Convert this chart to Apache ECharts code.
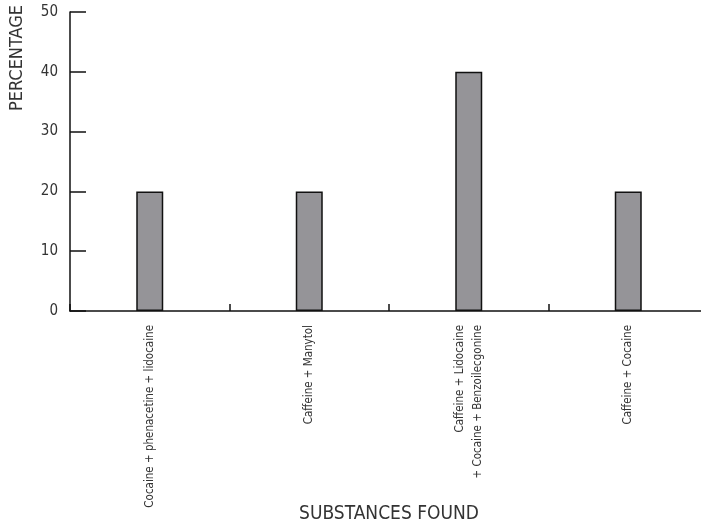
<!DOCTYPE html>
<html>
<head>
<meta charset="utf-8">
<script src="https://cdn.jsdelivr.net/npm/echarts@6/dist/echarts.min.js"></script>
<style>html,body{margin:0;padding:0;background:#fff}#c{width:701px;height:525px}</style>
</head>
<body>
<div id="c"></div>
<script>
const categories = [
  "Cocaine + phenacetine + lidocaine",
  "Caffeine + Manytol",
  "Caffeine + Lidocaine\n+ Cocaine + Benzoilecgonine",
  "Caffeine + Cocaine"
];
const percentages = [20, 20, 40, 20];
const yTicks = [0, 10, 20, 30, 40, 50];
const xAxisTitle = "SUBSTANCES FOUND";
const yAxisTitle = "PERCENTAGE";

const FONT = "'Liberation Sans Narrow', 'DejaVu Sans Condensed', sans-serif";
const chart = echarts.init(document.getElementById('c'));
chart.setOption({
  animation: false,
  backgroundColor: '#fff',
  grid: { left: 70, top: 12, width: 638, height: 299, containLabel: false, outerBoundsMode: 'none' },
  xAxis: {
    type: 'category',
    data: categories,
    name: xAxisTitle,
    nameLocation: 'middle',
    nameGap: 194,
    nameMoveOverlap: false,
    nameTextStyle: { fontFamily: FONT, fontSize: 19, color: '#333' },
    axisLine: { lineStyle: { color: '#111', width: 1.5 } },
    axisTick: { show: true, inside: true, length: 7, alignWithLabel: false, lineStyle: { color: '#111', width: 1.5 } },
    axisLabel: { rotate: 90, fontFamily: FONT, fontSize: 11.5, color: '#333', margin: 14, lineHeight: 18, interval: 0 }
  },
  yAxis: {
    type: 'value',
    min: 0, max: 50, interval: 10,
    axisLine: { show: true, lineStyle: { color: '#111', width: 1.5 } },
    axisTick: { show: true, inside: true, length: 16, lineStyle: { color: '#111', width: 1.5 } },
    splitLine: { show: false },
    axisLabel: { fontFamily: FONT, fontSize: 15, color: '#333', margin: 12,
      formatter: v => yTicks.includes(v) ? String(v) : '' }
  },
  graphic: [{
    type: 'text',
    left: 8, top: 5,
    rotation: Math.PI / 2,
    style: { text: yAxisTitle, fontFamily: FONT, fontSize: 18, fill: '#333' }
  }],
  series: [{
    type: 'bar',
    data: percentages,
    barWidth: 27,
    itemStyle: { color: '#959498', borderColor: '#111', borderWidth: 1.5 }
  }]
});
</script>
</body>
</html>
